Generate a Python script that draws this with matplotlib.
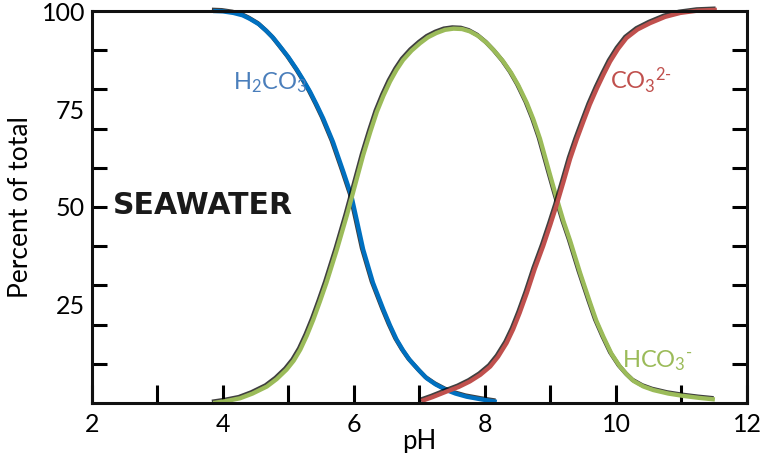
import numpy as np
import matplotlib
matplotlib.use("Agg")
import matplotlib.pyplot as plt
import matplotlib.patheffects as pe

# values (pH, percent of total)
h2co3_ph = [3.85, 4.0, 4.16, 4.3, 4.41, 4.55, 4.67, 4.77, 4.87, 5.0, 5.13,
            5.23, 5.33, 5.43, 5.53, 5.68, 5.84, 5.96, 6.05, 6.14, 6.29, 6.45,
            6.55, 6.65, 6.75, 6.85, 7.0, 7.11, 7.25, 7.41, 7.55, 7.72, 7.95, 8.18]
h2co3_pct = [100, 99.9, 99.5, 98.9, 98, 96.6, 94.8, 93.1, 91, 88.2, 85,
             82.3, 79.4, 76.1, 72.6, 66.6, 58.9, 52.9, 46.1, 39.2, 30.7, 23.8,
             19.8, 16.2, 13.4, 11, 8.2, 6.3, 4.7, 3.3, 2.4, 1.6, 0.9, 0.3]

hco3_ph = [3.85, 4.05, 4.26, 4.45, 4.67, 4.82, 4.97, 5.08, 5.18, 5.28, 5.38,
           5.48, 5.58, 5.74, 5.89, 6.02, 6.14, 6.25, 6.35, 6.45, 6.55, 6.65,
           6.75, 6.88, 7.01, 7.13, 7.26, 7.39, 7.52, 7.65, 7.77, 7.90, 8.03,
           8.15, 8.28, 8.40, 8.51, 8.64, 8.74, 8.84, 8.99, 9.09, 9.20, 9.30,
           9.45, 9.60, 9.70, 9.81, 9.93, 10.06, 10.17, 10.27, 10.42, 10.57,
           10.80, 11.03, 11.27, 11.51]
hco3_pct = [0, 0.5, 1.2, 2.4, 4.2, 6.1, 8.5, 10.8, 13.6, 17.2, 21.3,
            25.9, 30.7, 39.2, 47.8, 55.8, 63.2, 69.2, 74.3, 78.4, 82, 85,
            87.5, 89.9, 91.8, 93.3, 94.4, 95.2, 95.5, 95.4, 94.8, 93.6, 91.8,
            89.7, 87.1, 84.2, 81, 76.5, 72.3, 67.4, 58.4, 52.5, 46.3, 41.4,
            33.3, 25.8, 21, 16.8, 12.6, 9.3, 7.2, 5.6, 4.2, 3.3,
            2.4, 1.8, 1.3, 0.9]

co3_ph = [7.03, 7.2, 7.41, 7.6, 7.77, 7.93, 8.08, 8.2, 8.33, 8.43, 8.53,
          8.64, 8.76, 8.89, 9.0, 9.09, 9.20, 9.30, 9.40, 9.50, 9.60, 9.71,
          9.81, 9.91, 10.03, 10.16, 10.33, 10.52, 10.75, 10.98, 11.25, 11.54]
co3_pct = [0.5, 1.5, 2.9, 4.1, 5.5, 7.2, 9.3, 11.8, 15.3, 18.8, 23,
           28.1, 34.2, 40.1, 45.6, 50.3, 56.5, 62.3, 67.2, 71.7, 76.1, 80.3,
           83.8, 87.1, 90.3, 93.1, 95.3, 96.9, 98.5, 99.5, 100.1, 100.3]

x_major = [2, 4, 6, 8, 10, 12]
x_minor = [3, 5, 7, 9, 11]
y_major = [25, 50, 75, 100]
y_minor = [10, 20, 30, 40, 50, 60, 70, 80, 90]

plt.rcParams['font.family'] = ['Lato', 'DejaVu Sans']
plt.rcParams['mathtext.fontset'] = 'custom'
plt.rcParams['mathtext.rm'] = 'Lato'
plt.rcParams['mathtext.it'] = 'Lato:italic'

blue = '#0070C0'
green = '#9BBB59'
red = '#C0504D'

fig = plt.figure(figsize=(7.62, 4.53), dpi=100)
ax = fig.add_axes([0.1207, 0.1104, 0.8596, 0.8653])

shadow = [pe.SimpleLineShadow(offset=(-0.9, 0.9), shadow_color='k', alpha=0.75), pe.Normal()]
for xs, ys, c in [(h2co3_ph, h2co3_pct, blue), (hco3_ph, hco3_pct, green),
                  (co3_ph, co3_pct, red)]:
    ax.plot(xs, ys, color=c, lw=3.1, path_effects=shadow, clip_on=False,
            solid_capstyle='butt', solid_joinstyle='round')

ax.text(4.15, 80, r'H$_\mathrm{2}$CO$_\mathrm{3}$', color='#4A7EBB', fontsize=17,
        va='baseline', ha='left')
ax.text(9.91, 80, r'CO$_\mathrm{3}$$^\text{2-}$', color=red, fontsize=17,
        va='baseline', ha='left')
ax.text(10.09, 9, r'HCO$_\mathrm{3}$$^\text{-}$', color=green, fontsize=17,
        va='baseline', ha='left')
ax.text(2.32, 50.5, 'SEAWATER', family='DejaVu Sans', fontweight='bold',
        fontsize=21.5, color='#1a1a1a', va='center', ha='left')

ax.set_xlim(2, 12)
ax.set_ylim(0, 100)
ax.set_xticks(x_major)
ax.set_xticks(x_minor, minor=True)
ax.set_yticks(y_major)
ax.set_yticks(y_minor, minor=True)
ax.yaxis.remove_overlapping_locs = False

ax.tick_params(axis='x', which='both', direction='in', length=13, width=2.2,
               labelsize=18, pad=7)
ax.tick_params(axis='y', which='major', length=0, labelsize=18, pad=5)
ax.tick_params(axis='y', which='minor', direction='in', length=11, width=2.2,
               left=True, right=True)

for s in ax.spines.values():
    s.set_linewidth(2.2)
    s.set_color('#111111')

ax.set_xlabel('pH', fontsize=18.5, labelpad=-5)
ax.set_ylabel('Percent of total', fontsize=19, labelpad=6)

fig.savefig('out.png', dpi=100)
